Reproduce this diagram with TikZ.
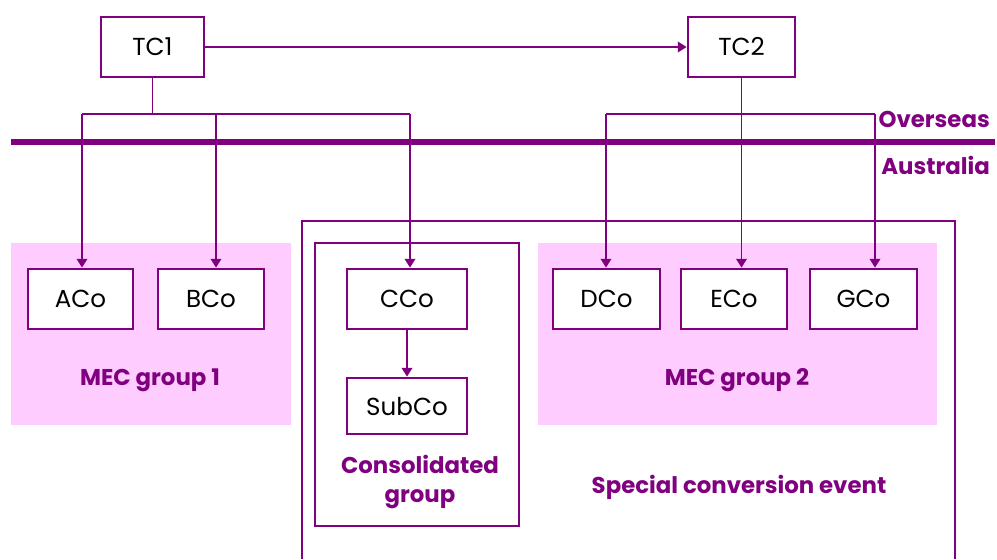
\documentclass[tikz,border=0pt]{standalone}
\usepackage{fontspec}
\setmainfont{Poppins}
\usetikzlibrary{arrows.meta}
\definecolor{plum}{RGB}{128,0,128}
\definecolor{pinkfill}{RGB}{255,204,255}
\tikzset{
  cobox/.style={draw=plum,line width=1.6pt,fill=white,minimum height=1.2cm,inner sep=0pt,font=\fontsize{14}{16}\selectfont},
  grouplabel/.style={text=plum,font=\bfseries\fontsize{13}{16.5}\selectfont,align=center},
  link/.style={draw=plum,line width=1.1pt},
  tip/.style={-{Triangle[width=6pt,length=5pt]}}
}

\begin{document}
\begin{tikzpicture}[x=0.02cm,y=-0.02cm]
\useasboundingbox (0,0) rectangle (997,559);

% group areas
\fill[pinkfill] (11,243) rectangle (291,425);
\fill[pinkfill] (538,243) rectangle (937,425);

% special conversion event, open at the bottom
\draw[plum,line width=1.1pt] (302,559) -- (302,221) -- (955,221) -- (955,559);
\draw[plum,line width=1.1pt] (315,243) rectangle (519,526);

% border line
\draw[plum,line width=3.4pt] (11,142) -- (995,142);
\node[grouplabel,anchor=east] (ovs) at (996,119) {Overseas};
\node[grouplabel,anchor=east] (aus) at (996,165) {Australia};

% companies
\node[cobox,minimum width=2.06cm] (tc1) at (152.5,47) {TC1};
\node[cobox,minimum width=2.14cm] (tc2) at (741.5,47) {TC2};
\node[cobox,minimum width=2.1cm] (aco) at (80.5,299) {ACo};
\node[cobox,minimum width=2.12cm] (bco) at (211,299) {BCo};
\node[cobox,minimum width=2.4cm] (cco) at (407,299) {CCo};
\node[cobox,minimum width=2.4cm,minimum height=1.12cm] (subco) at (407,406) {SubCo};
\node[cobox,minimum width=2.14cm] (dco) at (606.5,299) {DCo};
\node[cobox,minimum width=2.12cm] (eco) at (734,299) {ECo};
\node[cobox,minimum width=2.14cm] (gco) at (863.5,299) {GCo};

\node[grouplabel] (mec1) at (150,380) {MEC group 1};
\node[grouplabel] (mec2) at (737,380) {MEC group 2};
\node[grouplabel] (cons) at (420,482) {Consolidated\\group};
\node[grouplabel] (sce) at (739,487) {Special conversion event};

% ownership lines
\coordinate (ja) at (82,114);
\coordinate (jb) at (216,114);
\coordinate (jc) at (410,114);
\coordinate (jd) at (606,114);
\coordinate (je) at (741.5,114);
\coordinate (jg) at (875,114);

\draw[link,tip] (tc1) -- (tc2);
\draw[link] (tc1.south) -- (tc1.south |- ja);
\draw[link] (ja) -- (jc);
\draw[link,tip] (ja) -- (ja |- aco.north);
\draw[link,tip] (jb) -- (jb |- bco.north);
\draw[link,tip] (jc) -- (jc |- cco.north);

\draw[link] (tc2.south) -- (tc2.south |- je);
\draw[link] (jd) -- (jg);
\draw[link,tip] (jd) -- (jd |- dco.north);
\draw[link,tip] (je) -- (je |- eco.north);
\draw[link,tip] (jg) -- (jg |- gco.north);

\draw[link,tip] (cco) -- (subco);

\end{tikzpicture}
\end{document}
